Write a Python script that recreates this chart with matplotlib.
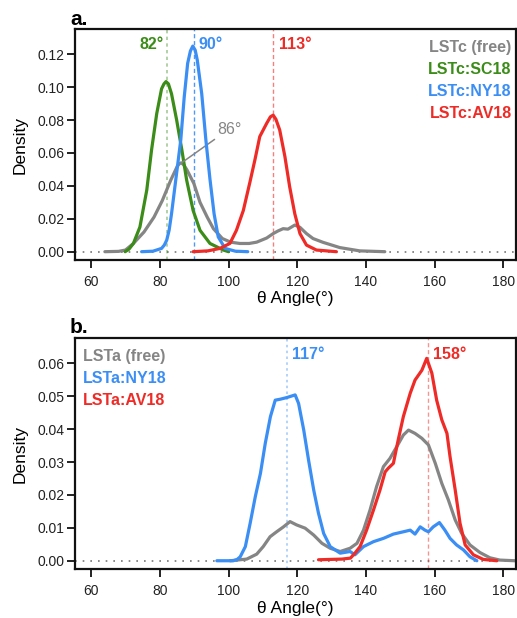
import matplotlib
matplotlib.use("Agg")
import matplotlib.pyplot as plt

plt.rcParams['font.family'] = ['Liberation Sans', 'DejaVu Sans']

# ---- panel a: LSTc theta-angle densities ----
theta_c_free = [64.0, 68.0, 70.0, 72.3, 75.4, 78.3, 80.7, 83.2, 85.1, 85.7, 86.2, 86.9, 87.9,
                89.9, 91.7, 93.8, 95.6, 98.2, 100.6, 103.3, 106.0, 108.2, 111.1, 113.0, 114.4,
                115.9, 117.3, 119.3, 120.8, 122.7, 124.6, 127.5, 132.4, 138.2, 145.5]
dens_c_free = [0.0, 0.0002, 0.001, 0.005, 0.012, 0.021, 0.031, 0.0436, 0.052, 0.0535, 0.054,
               0.053, 0.0497, 0.0415, 0.030, 0.021, 0.014, 0.008, 0.0058, 0.005, 0.005, 0.0058,
               0.0083, 0.011, 0.0126, 0.014, 0.0137, 0.0162, 0.0148, 0.011, 0.008, 0.0057,
               0.0025, 0.0005, 0.0]

theta_c_sc18 = [69.9, 71.0, 72.3, 74.2, 76.2, 77.6, 79.1, 80.5, 81.2, 81.8, 82.5, 83.4, 84.9,
                86.4, 87.8, 89.7, 91.7, 94.6, 98.5, 100.0]
dens_c_sc18 = [0.0, 0.0015, 0.005, 0.015, 0.0375, 0.062, 0.084, 0.099, 0.102, 0.1034, 0.102,
               0.096, 0.080, 0.062, 0.0436, 0.025, 0.013, 0.005, 0.001, 0.0]

theta_c_ny18 = [74.7, 78.0, 80.5, 81.3, 82.0, 82.7, 83.4, 84.9, 86.1, 87.1, 88.1, 88.9, 89.6,
                90.3, 90.9, 92.2, 93.4, 94.6, 95.8, 97.0, 99.0, 102.0, 105.6]
dens_c_ny18 = [0.0, 0.0003, 0.002, 0.004, 0.007, 0.013, 0.023, 0.048, 0.068, 0.094, 0.1145,
               0.122, 0.125, 0.1225, 0.1165, 0.096, 0.068, 0.044, 0.023, 0.009, 0.002, 0.0003,
               0.0]

theta_c_av18 = [89.7, 94.0, 97.5, 100.4, 102.3, 104.3, 106.2, 107.7, 109.1, 111.1, 112.2,
                113.0, 113.8, 114.9, 116.4, 117.8, 119.3, 120.8, 122.7, 125.6, 131.4]
dens_c_av18 = [0.0, 0.0005, 0.002, 0.005, 0.013, 0.025, 0.042, 0.056, 0.070, 0.078, 0.082,
               0.083, 0.0805, 0.074, 0.058, 0.0395, 0.023, 0.011, 0.004, 0.001, 0.0]

# ---- panel b: LSTa theta-angle densities ----
theta_a_free = [100.5, 105.3, 108.2, 110.1, 112.1, 114.0, 116.0, 117.9, 119.8, 122.3, 124.8,
                127.2, 129.6, 132.5, 135.4, 137.4, 139.3, 141.2, 143.1, 145.1, 147.0, 149.0,
                150.9, 152.4, 154.3, 156.3, 158.2, 160.2, 162.1, 164.0, 166.0, 167.9, 170.3,
                173.2, 176.1, 179.0, 183.4]
dens_a_free = [0.0, 0.0005, 0.002, 0.0043, 0.0073, 0.0088, 0.0103, 0.0119, 0.0109, 0.0099,
               0.0078, 0.0053, 0.0038, 0.0028, 0.0038, 0.0053, 0.0093, 0.0154, 0.0225, 0.0286,
               0.0311, 0.0347, 0.0382, 0.0397, 0.0387, 0.0372, 0.0352, 0.0296, 0.0235, 0.0185,
               0.0124, 0.0083, 0.0048, 0.0025, 0.0009, 0.0002, 0.0]

theta_a_ny18 = [96.6, 101.4, 102.5, 103.4, 104.9, 106.3, 107.8, 109.3, 110.7, 112.2, 113.6,
                115.1, 117.0, 119.4, 120.4, 121.9, 123.3, 124.8, 126.2, 127.7, 129.6, 132.5,
                135.4, 136.8, 139.3, 142.2, 145.1, 148.0, 150.9, 152.9, 154.3, 155.8, 157.2,
                158.2, 159.6, 161.4, 163.0, 164.5, 166.4, 168.4, 170.3, 172.3]
dens_a_ny18 = [0.0, 0.0, 0.0004, 0.0012, 0.0043, 0.0114, 0.0195, 0.0266, 0.0357, 0.0438,
               0.0488, 0.0491, 0.0496, 0.0504, 0.0478, 0.0397, 0.0306, 0.0215, 0.0144, 0.0083,
               0.0043, 0.0023, 0.0028, 0.0018, 0.0043, 0.0058, 0.0068, 0.0081, 0.0088, 0.0093,
               0.0081, 0.0103, 0.0093, 0.0088, 0.0103, 0.0116, 0.0093, 0.0068, 0.0048, 0.0033,
               0.0012, 0.0]

theta_a_av18 = [126.2, 133.0, 135.5, 136.8, 138.3, 140.2, 142.2, 144.1, 145.6, 146.5, 148.0,
                149.4, 150.9, 152.9, 154.3, 156.3, 157.7, 159.2, 160.6, 162.1, 163.6, 164.5,
                166.0, 167.4, 168.9, 171.3, 174.2, 178.1]
dens_a_av18 = [0.0003, 0.0005, 0.0008, 0.0023, 0.0043, 0.0093, 0.0154, 0.0215, 0.0270, 0.0281,
               0.0296, 0.0367, 0.0438, 0.0509, 0.0549, 0.0579, 0.0615, 0.0570, 0.0488, 0.0428,
               0.0387, 0.0316, 0.0215, 0.0114, 0.0048, 0.0018, 0.0004, 0.0]

# peak angles marked on each panel
peak_c_sc18, peak_c_ny18, peak_c_av18, peak_c_free = 82, 90, 113, 86
peak_a_ny18, peak_a_av18 = 117, 158

x_ticks = [60, 80, 100, 120, 140, 160, 180]
y_ticks_a = [0.00, 0.02, 0.04, 0.06, 0.08, 0.10, 0.12]
y_ticks_b = [0.00, 0.01, 0.02, 0.03, 0.04, 0.05, 0.06]

GREY = '#858585'
GREEN = '#3B8C18'
BLUE = '#3A8EF4'
RED = '#EE2B26'
LW = 2.3

W, H = 517, 618
fig = plt.figure(figsize=(W / 100, H / 100), dpi=100)
ax1 = fig.add_axes([75 / W, 1 - 260 / H, 441 / W, 230.7 / H])
ax2 = fig.add_axes([75 / W, 1 - 569.3 / H, 441 / W, 231 / H])


def style_axes(ax, yticks, ylim):
    ax.set_xlim(55.3, 183.7)
    ax.set_ylim(*ylim)
    ax.set_xticks(x_ticks)
    ax.set_yticks(yticks)
    ax.set_yticklabels([f'{v:.2f}' for v in yticks])
    for s in ax.spines.values():
        s.set_linewidth(1.6)
        s.set_color('#111111')
    ax.tick_params(axis='both', which='both', direction='out', length=5.5, width=1.3,
                   labelsize=10, color='#111111', labelcolor='#222222',
                   top=False, right=False)
    ax.tick_params(axis='x', pad=5)
    ax.tick_params(axis='y', pad=2)
    ax.axhline(0, color='#777777', lw=1.2, ls=(0, (1, 3.6)), zorder=1)
    ax.set_xlabel('θ Angle(°)', fontsize=12.5)
    ax.set_ylabel('Density', fontsize=12.5)
    ax.xaxis.set_label_coords(0.5, -0.169)
    ax.xaxis.label.set_va('center')
    ax.yaxis.set_label_coords(-0.1247, 0.5)
    ax.yaxis.label.set_va('center')


def density_line(ax, x, y, color, z):
    ax.plot(x, y, color=color, lw=LW, solid_capstyle='round', solid_joinstyle='round',
            zorder=z)


style_axes(ax1, y_ticks_a, (-0.00505, 0.1352))
style_axes(ax2, y_ticks_b, (-0.0026, 0.0676))

# panel a
ax1.axvline(peak_c_sc18, color=GREEN, alpha=0.45, lw=1.2, ls=(0, (2, 2)), zorder=1)
ax1.axvline(peak_c_ny18, color=BLUE, alpha=0.9, lw=1.0, ls=(0, (3, 2)), zorder=1)
ax1.axvline(peak_c_av18, color=RED, alpha=0.6, lw=1.0, ls=(0, (3, 2)), zorder=1)

density_line(ax1, theta_c_free, dens_c_free, GREY, 2)
density_line(ax1, theta_c_sc18, dens_c_sc18, GREEN, 3)
density_line(ax1, theta_c_ny18, dens_c_ny18, BLUE, 4)
density_line(ax1, theta_c_av18, dens_c_av18, RED, 5)

ax1.text(peak_c_sc18 - 0.8, 0.1257, f'{peak_c_sc18}°', color=GREEN, fontsize=11.5,
         fontweight='bold', ha='right', va='center')
ax1.text(peak_c_ny18 + 1.3, 0.1257, f'{peak_c_ny18}°', color=BLUE, fontsize=11.5,
         fontweight='bold', ha='left', va='center')
ax1.text(peak_c_av18 + 1.6, 0.1257, f'{peak_c_av18}°', color=RED, fontsize=11.5,
         fontweight='bold', ha='left', va='center')
ax1.annotate(f'{peak_c_free}°', xy=(86.3, 0.054), xytext=(96.6, 0.0745),
             color=GREY, fontsize=11.5, ha='left', va='center',
             arrowprops=dict(arrowstyle='-', color=GREY, lw=1.1, shrinkA=0, shrinkB=0))

legend_a = [('LSTc (free)', GREY), ('LSTc:SC18', GREEN), ('LSTc:NY18', BLUE),
            ('LSTc:AV18', RED)]
for i, (lab, col) in enumerate(legend_a):
    ax1.text(0.990, 0.919 - i * 0.094, lab, transform=ax1.transAxes, color=col,
             fontsize=11.5, fontweight='bold', ha='right', va='center')

# panel b
ax2.axvline(peak_a_ny18, color=BLUE, alpha=0.45, lw=1.2, ls=(0, (1.5, 2)), zorder=1)
ax2.axvline(peak_a_av18, color=RED, alpha=0.5, lw=1.0, ls=(0, (3, 2)), zorder=1)

density_line(ax2, theta_a_free, dens_a_free, GREY, 2)
density_line(ax2, theta_a_ny18, dens_a_ny18, BLUE, 3)
density_line(ax2, theta_a_av18, dens_a_av18, RED, 4)

ax2.text(peak_a_ny18 + 1.6, 0.0628, f'{peak_a_ny18}°', color=BLUE, fontsize=11.5,
         fontweight='bold', ha='left', va='center')
ax2.text(peak_a_av18 + 1.5, 0.0628, f'{peak_a_av18}°', color=RED, fontsize=11.5,
         fontweight='bold', ha='left', va='center')

legend_b = [('LSTa (free)', GREY), ('LSTa:NY18', BLUE), ('LSTa:AV18', RED)]
for i, (lab, col) in enumerate(legend_b):
    ax2.text(0.0175, 0.920 - i * 0.094, lab, transform=ax2.transAxes, color=col,
             fontsize=11.5, fontweight='bold', ha='left', va='center')

# panel tags
fig.text(70 / W, 1 - 25 / H, 'a.', fontsize=15, fontweight='bold', ha='left', va='baseline')
fig.text(70 / W, 1 - 332.7 / H, 'b.', fontsize=15, fontweight='bold', ha='left', va='baseline')

fig.savefig('out.png', dpi=100)
